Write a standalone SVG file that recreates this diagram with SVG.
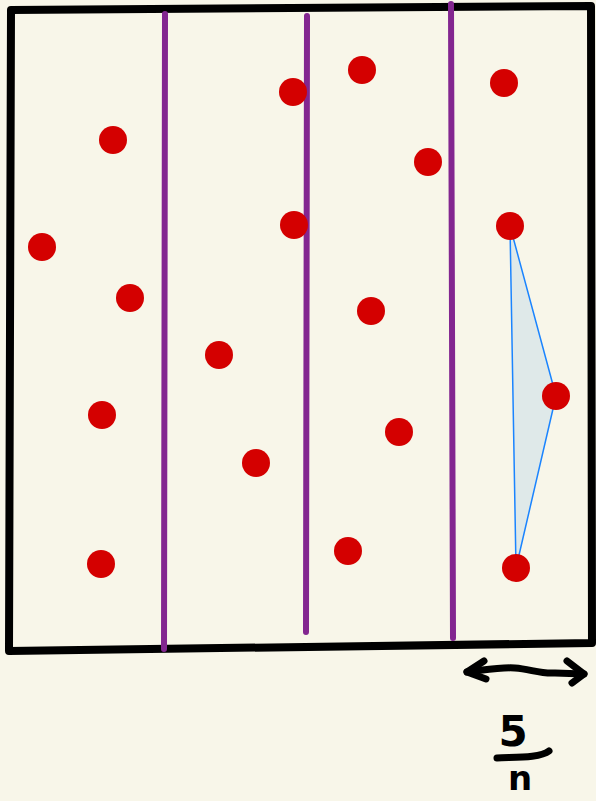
<svg xmlns="http://www.w3.org/2000/svg" width="596" height="801" viewBox="0 0 596 801">
<style>
.dot{fill:#d40000}
.div{stroke:#832690;stroke-width:6;stroke-linecap:round;fill:none}
.ink{stroke:#000;stroke-width:7;stroke-linecap:round;stroke-linejoin:round;fill:none}
.txt{font-family:"DejaVu Sans","Liberation Sans",sans-serif;font-weight:bold;fill:#000}
</style>
<rect width="596" height="801" fill="#f8f6e9"/>
<g id="frame">
<path d="M11,10 L591,6 L592,643 L9,651 Z" fill="#f8f6e9" stroke="#000" stroke-width="8" stroke-linejoin="round"/>
</g>
<g id="dividers">
<line class="div" x1="165" y1="14" x2="164" y2="649"/>
<line class="div" x1="307" y1="16" x2="306" y2="632"/>
<line class="div" x1="451" y1="4" x2="453" y2="638"/>
</g>
<g id="triangle">
<polygon points="510,226 556,396 516,568" fill="#dfe9e9" stroke="#1a84ff" stroke-width="1.5" stroke-linejoin="round"/>
</g>
<g id="points">
<circle class="dot" cx="113" cy="140" r="14"/>
<circle class="dot" cx="42" cy="247" r="14"/>
<circle class="dot" cx="130" cy="298" r="14"/>
<circle class="dot" cx="102" cy="415" r="14"/>
<circle class="dot" cx="101" cy="564" r="14"/>
<circle class="dot" cx="219" cy="355" r="14"/>
<circle class="dot" cx="256" cy="463" r="14"/>
<circle class="dot" cx="293" cy="92" r="14"/>
<circle class="dot" cx="294" cy="225" r="14"/>
<circle class="dot" cx="362" cy="70" r="14"/>
<circle class="dot" cx="428" cy="162" r="14"/>
<circle class="dot" cx="371" cy="311" r="14"/>
<circle class="dot" cx="399" cy="432" r="14"/>
<circle class="dot" cx="348" cy="551" r="14"/>
<circle class="dot" cx="504" cy="83" r="14"/>
<circle class="dot" cx="510" cy="226" r="14"/>
<circle class="dot" cx="556" cy="396" r="14"/>
<circle class="dot" cx="516" cy="568" r="14"/>
</g>
<g id="width-arrow">
<path class="ink" d="M467,672 C485,670 500,667 515,668 C530,669 540,674 555,673 L584,674"/>
<path class="ink" d="M484,661 L467,672 L486,679"/>
<path class="ink" d="M567,661 L584,674 L572,683"/>
</g>
<g id="label">
<text class="txt" x="513" y="746" font-size="42" text-anchor="middle">5</text>
<path class="ink" d="M497,758 C515,757 540,758 549,751" stroke-width="4"/>
<text class="txt" x="520" y="790" font-size="34" text-anchor="middle">n</text>
</g>
</svg>
